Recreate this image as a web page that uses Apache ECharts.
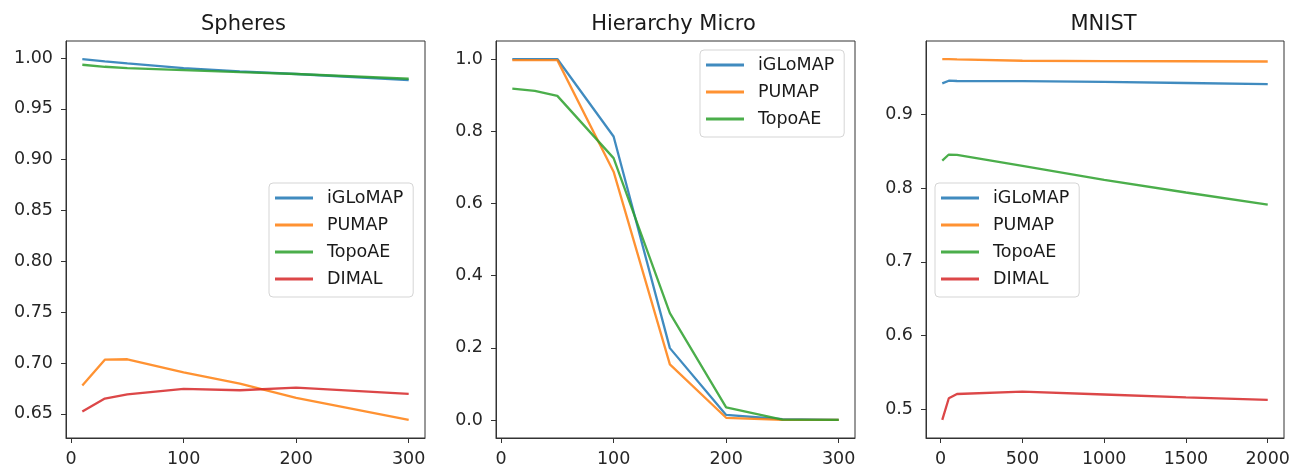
<!DOCTYPE html>
<html>
<head>
<meta charset="utf-8">
<script src="https://cdn.jsdelivr.net/npm/echarts@6/dist/echarts.min.js"></script>
<style>
html,body{margin:0;padding:0;background:#fff;}
#chart{width:1293px;height:470px;}
</style>
</head>
<body>
<div id="chart"></div>
<script>
// ---- Data ----
const methods = ['iGLoMAP', 'PUMAP', 'TopoAE', 'DIMAL'];
const colors = ['#1f77b4', '#ff7f0e', '#2ca02c', '#d62728'];
const titles = ['Spheres', 'Hierarchy Micro', 'MNIST'];

const sphX = [10, 30, 50, 100, 150, 200, 300];
const sphIGLoMAP = [0.9990, 0.9967, 0.9947, 0.9900, 0.9868, 0.9843, 0.9784];
const sphPUMAP = [0.6778, 0.7033, 0.7037, 0.6909, 0.6798, 0.6657, 0.6440];
const sphTopoAE = [0.9934, 0.9914, 0.9900, 0.9882, 0.9862, 0.9843, 0.9796];
const sphDIMAL = [0.6522, 0.6650, 0.6692, 0.6745, 0.6732, 0.6758, 0.6696];

const hierX = [10, 30, 50, 100, 150, 200, 250, 300];
const hierIGLoMAP = [1.000, 1.000, 1.000, 0.7855, 0.199, 0.014, 0.002, 0.000];
const hierPUMAP = [0.997, 0.997, 0.997, 0.688, 0.154, 0.006, 0.000, 0.000];
const hierTopoAE = [0.918, 0.912, 0.898, 0.7255, 0.296, 0.035, 0.001, 0.000];

const mnistX = [10, 50, 100, 500, 1000, 1500, 2000];
const mnistIGLoMAP = [0.9420, 0.9456, 0.9452, 0.9450, 0.9440, 0.9425, 0.9411];
const mnistPUMAP = [0.9750, 0.9748, 0.9745, 0.9727, 0.9722, 0.9720, 0.9717];
const mnistTopoAE = [0.8373, 0.8455, 0.8450, 0.8300, 0.8112, 0.7940, 0.7774];
const mnistDIMAL = [0.4855, 0.5149, 0.5207, 0.5238, 0.5200, 0.5162, 0.5126];

const sphXTicks = [0, 100, 200, 300];
const sphYTicks = [0.65, 0.70, 0.75, 0.80, 0.85, 0.90, 0.95, 1.00];
const hierXTicks = [0, 100, 200, 300];
const hierYTicks = [0.0, 0.2, 0.4, 0.6, 0.8, 1.0];
const mnistXTicks = [0, 500, 1000, 1500, 2000];
const mnistYTicks = [0.5, 0.6, 0.7, 0.8, 0.9];

// ---- Build ----
const panels = [
  {x: sphX, ys: [sphIGLoMAP, sphPUMAP, sphTopoAE, sphDIMAL], xt: sphXTicks, yt: sphYTicks, dec: 2},
  {x: hierX, ys: [hierIGLoMAP, hierPUMAP, hierTopoAE], xt: hierXTicks, yt: hierYTicks, dec: 1},
  {x: mnistX, ys: [mnistIGLoMAP, mnistPUMAP, mnistTopoAE, mnistDIMAL], xt: mnistXTicks, yt: mnistYTicks, dec: 1}
];

const gridLefts = [66, 496, 926];
const gridW = 359, gridTop = 41, gridH = 397;
const legendPos = [{left: 269, top: 183}, {left: 700, top: 50}, {left: 935, top: 183}];
const FONT = 'DejaVu Sans';

function extent(arrs) {
  let lo = Infinity, hi = -Infinity;
  arrs.forEach(a => a.forEach(v => { lo = Math.min(lo, v); hi = Math.max(hi, v); }));
  const m = (hi - lo) * 0.05;
  return [lo - m, hi + m];
}

const grid = [], xAxis = [], yAxis = [], series = [], legend = [], title = [];
panels.forEach((p, i) => {
  grid.push({left: gridLefts[i], top: gridTop, width: gridW, height: gridH,
    show: true, borderColor: '#333', borderWidth: 1, backgroundColor: 'transparent'});
  const xe = extent([p.x]);
  const ye = extent(p.ys);
  xAxis.push({type: 'value', gridIndex: i, min: xe[0], max: xe[1], position: 'bottom',
    splitLine: {show: false}, axisLine: {show: true, onZero: false, lineStyle: {color: '#333', width: 1}},
    axisTick: {show: true, inside: false, length: 5, customValues: p.xt, lineStyle: {color: '#333', width: 1}},
    axisLabel: {customValues: p.xt, margin: 12, fontFamily: FONT, fontSize: 17.5, color: '#262626',
      formatter: v => String(v)}});
  yAxis.push({type: 'value', gridIndex: i, min: ye[0], max: ye[1], position: 'left',
    splitLine: {show: false}, axisLine: {show: true, onZero: false, lineStyle: {color: '#333', width: 1}},
    axisTick: {show: true, inside: false, length: 5, customValues: p.yt, lineStyle: {color: '#333', width: 1}},
    axisLabel: {customValues: p.yt, margin: 13, fontFamily: FONT, fontSize: 17.5, color: '#262626',
      formatter: v => v.toFixed(p.dec)}});
  const names = [];
  p.ys.forEach((ys, k) => {
    names.push(methods[k]);
    series.push({type: 'line', name: methods[k], xAxisIndex: i, yAxisIndex: i,
      data: p.x.map((xv, j) => [xv, ys[j]]),
      symbol: 'none', showSymbol: false, animation: false,
      color: colors[k],
      lineStyle: {color: colors[k], width: 2.3, opacity: 0.85},
      itemStyle: {color: colors[k], opacity: 0.85},
      z: 2 + k});
  });
  legend.push({data: names, orient: 'vertical', left: legendPos[i].left, top: legendPos[i].top,
    icon: 'rect', itemWidth: 38, itemHeight: 3, itemGap: 9, padding: [6, 10, 9, 6],
    backgroundColor: 'rgba(255,255,255,0.8)', borderColor: '#d5d5d5', borderWidth: 1, borderRadius: 4,
    selectedMode: false, z: 10,
    textStyle: {fontFamily: FONT, fontSize: 17.5, color: '#1a1a1a', lineHeight: 18, padding: [0, 0, 0, 9]}});
  title.push({text: titles[i], left: gridLefts[i] + gridW / 2 - 2, top: 14, textAlign: 'center', padding: 0,
    textStyle: {fontFamily: FONT, fontSize: 21, fontWeight: 'normal', color: '#1a1a1a'}});
});

const chart = echarts.init(document.getElementById('chart'), null, {renderer: 'canvas'});
chart.setOption({animation: false, backgroundColor: '#fff', title, grid, xAxis, yAxis, legend, series});
</script>
</body>
</html>
